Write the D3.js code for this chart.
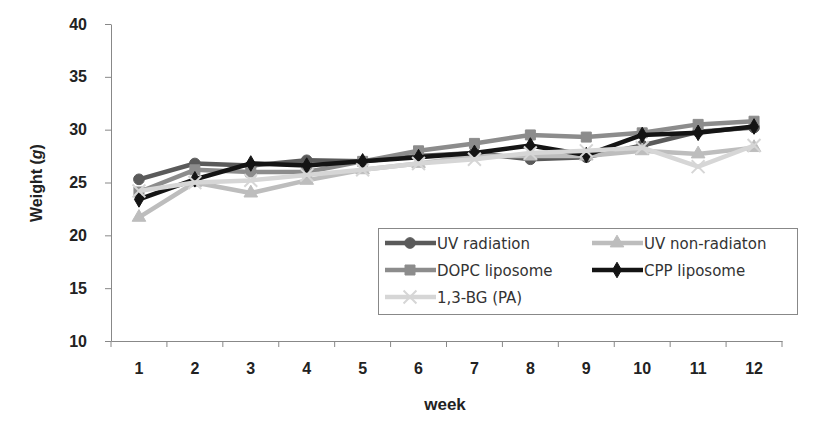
<!DOCTYPE html>
<html><head><meta charset="utf-8">
<script src="https://cdn.jsdelivr.net/npm/d3@7"></script>
<style>body{margin:0;background:#fff}svg{display:block}</style>
</head><body>
<svg id="chart" width="818" height="429"></svg>
<script>
const weeks = ["1","2","3","4","5","6","7","8","9","10","11","12"];
const yTicks = [10,15,20,25,30,35,40];
const uvRadiation   = [25.3,26.8,26.6,27.1,27.0,27.5,27.8,27.2,27.4,28.5,29.8,30.2];
const uvNonRadiaton = [21.7,25.0,24.0,25.2,26.2,26.8,27.5,27.5,27.5,28.0,27.7,28.3];
const dopcLiposome  = [24.1,26.2,26.0,26.0,27.0,28.0,28.7,29.5,29.3,29.7,30.5,30.8];
const cppLiposome   = [23.4,25.3,26.8,26.6,27.0,27.4,27.8,28.5,27.6,29.5,29.7,30.3];
const bgPA          = [24.2,25.0,25.2,25.7,26.2,26.8,27.2,27.8,28.0,28.3,26.5,28.5];
const seriesNames = ["UV radiation","UV non-radiaton","DOPC liposome","CPP liposome","1,3-BG (PA)"];

const series = [
  {name:seriesNames[0], values:uvRadiation, color:"#5a5a5a", sym:"circle"},
  {name:seriesNames[1], values:uvNonRadiaton, color:"#bdbdbd", sym:"triangle"},
  {name:seriesNames[2], values:dopcLiposome, color:"#8c8c8c", sym:"square"},
  {name:seriesNames[3], values:cppLiposome, color:"#141414", sym:"diamond"},
  {name:seriesNames[4], values:bgPA, color:"#d6d6d6", sym:"cross"}
];

(function(){
const svg = d3.select("#chart");
const pL = 111, pR = 782, pT = 24, pB = 341;
const x = d3.scaleBand().domain(weeks).range([pL,pR]);
const y = d3.scaleLinear().domain([10,40]).range([pB,pT]);

const font = "'Liberation Sans', Arial, sans-serif";

const yAxis = svg.append("g").attr("transform",`translate(${pL},0)`)
  .call(d3.axisLeft(y).tickValues(yTicks).tickSize(6).tickSizeOuter(0));
yAxis.select(".domain").attr("stroke","#888");
yAxis.selectAll(".tick line").attr("stroke","#888");
yAxis.selectAll("text").attr("font-family",font).attr("font-weight","bold")
  .attr("font-size",16).attr("fill","#222").attr("x",-24);

const xAxis = svg.append("g").attr("transform",`translate(0,${pB})`)
  .call(d3.axisBottom(x).tickSize(0).tickSizeOuter(0));
xAxis.select(".domain").attr("stroke","#888");
xAxis.selectAll("text").attr("font-family",font).attr("font-weight","bold")
  .attr("font-size",16).attr("fill","#222").attr("y",22);
svg.append("g").selectAll("line").data(weeks.concat(["end"])).join("line")
  .attr("x1",(d,i)=> i<weeks.length ? x(d) : pR)
  .attr("x2",(d,i)=> i<weeks.length ? x(d) : pR)
  .attr("y1",pB).attr("y2",pB+6).attr("stroke","#888");

svg.append("text").attr("x",445).attr("y",410).attr("text-anchor","middle")
  .attr("font-family",font).attr("font-weight","bold").attr("font-size",17).attr("fill","#222").text("week");
const yt = svg.append("text").attr("transform","translate(42,183) rotate(-90)").attr("text-anchor","middle")
  .attr("font-family",font).attr("font-weight","bold").attr("font-size",16).attr("fill","#222");
yt.append("tspan").text("Weight (");
yt.append("tspan").attr("font-style","italic").text("g");
yt.append("tspan").text(")");

const cx = d => x(d) + x.bandwidth()/2;
const line = d3.line().x((d,i)=>cx(weeks[i])).y(d=>y(d));

function symbolPath(sym){
  const map = {circle:[d3.symbolCircle,90], triangle:[d3.symbolTriangle,80], square:[d3.symbolSquare,100], diamond:[d3.symbolDiamond,70], cross:[d3.symbolX,110]};
  return d3.symbol().type(map[sym][0]).size(map[sym][1])();
}

series.forEach(s=>{
  const g = svg.append("g");
  g.append("path").datum(s.values).attr("d",line).attr("fill","none")
    .attr("stroke",s.color).attr("stroke-width",4.5).attr("stroke-linejoin","round");
  g.selectAll("path.m").data(s.values).join("path").attr("class","m")
    .attr("transform",(d,i)=>`translate(${cx(weeks[i])},${y(d)})`)
    .attr("d",symbolPath(s.sym))
    .attr("fill",s.sym==="cross"?"none":s.color)
    .attr("stroke",s.color).attr("stroke-width",s.sym==="cross"?2:1);
});

const lg = svg.append("g");
lg.append("rect").attr("x",378.5).attr("y",228.5).attr("width",419).attr("height",86)
  .attr("fill","#fff").attr("stroke","#888").attr("stroke-width",1);
const pos = [[385,243],[592,243],[385,270],[592,270],[385,297]];
series.forEach((s,i)=>{
  const [lx,ly] = pos[i];
  lg.append("line").attr("x1",lx).attr("x2",lx+51).attr("y1",ly).attr("y2",ly)
    .attr("stroke",s.color).attr("stroke-width",4.5);
  lg.append("path").attr("transform",`translate(${lx+25},${ly})`).attr("d",symbolPath(s.sym))
    .attr("fill",s.sym==="cross"?"none":s.color).attr("stroke",s.color).attr("stroke-width",s.sym==="cross"?2:1);
  lg.append("text").attr("x",lx+52).attr("y",ly+5.5).attr("font-family","'DejaVu Sans', sans-serif")
    .attr("font-size",15).attr("fill","#333").text(s.name);
});
})();
</script>
</body></html>
